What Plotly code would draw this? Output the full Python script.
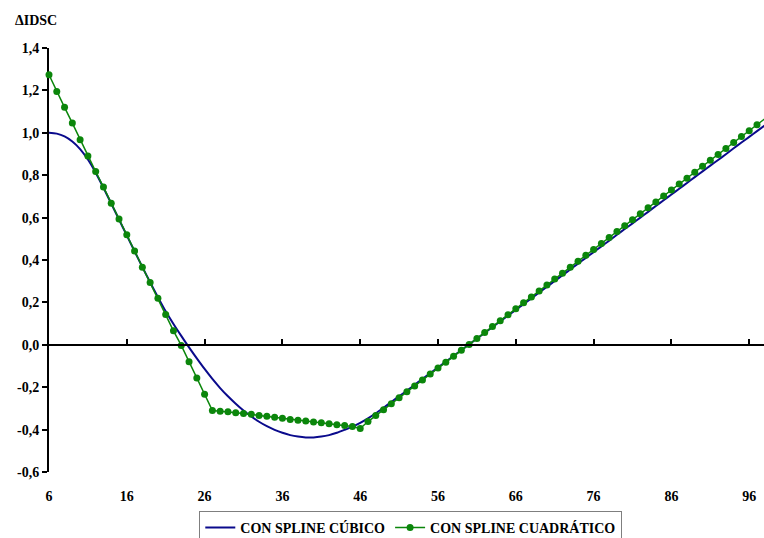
import plotly.graph_objects as go

# ---- data ----
x_vals = list(range(6, 99))

cubico = [
    1.000, 0.996, 0.983, 0.959, 0.923, 0.874, 0.812, 0.741, 0.666, 0.591,
    0.516, 0.441, 0.367, 0.295, 0.225, 0.158, 0.098, 0.042, -0.012, -0.064,
    -0.114, -0.161, -0.204, -0.243, -0.278, -0.310, -0.338, -0.363, -0.384, -0.401,
    -0.415, -0.426, -0.433, -0.437, -0.437, -0.433, -0.426, -0.415, -0.401, -0.386,
    -0.368, -0.347, -0.323, -0.297, -0.270, -0.243, -0.216, -0.189, -0.161, -0.134,
    -0.107, -0.080, -0.053, -0.025, 0.002, 0.029, 0.056, 0.083, 0.111, 0.138,
    0.165, 0.192, 0.219, 0.247, 0.274, 0.301, 0.328, 0.355, 0.383, 0.410,
    0.437, 0.464, 0.491, 0.519, 0.546, 0.573, 0.600, 0.627, 0.655, 0.682,
    0.709, 0.736, 0.763, 0.791, 0.818, 0.845, 0.872, 0.899, 0.927, 0.954,
    0.981, 1.008, 1.035,
]

cuadratico = [
    1.274, 1.195, 1.120, 1.046, 0.967, 0.890, 0.817, 0.744, 0.668, 0.593,
    0.519, 0.443, 0.366, 0.294, 0.220, 0.143, 0.066, -0.003, -0.080, -0.157,
    -0.233, -0.310, -0.313, -0.316, -0.320, -0.324, -0.328, -0.333, -0.337, -0.342,
    -0.347, -0.352, -0.356, -0.360, -0.364, -0.368, -0.372, -0.377, -0.381, -0.385,
    -0.395, -0.362, -0.334, -0.306, -0.278, -0.250, -0.222, -0.194, -0.166, -0.138,
    -0.110, -0.082, -0.054, -0.026, 0.002, 0.030, 0.058, 0.086, 0.114, 0.142,
    0.170, 0.198, 0.226, 0.254, 0.282, 0.310, 0.338, 0.366, 0.394, 0.422,
    0.450, 0.478, 0.506, 0.534, 0.562, 0.590, 0.618, 0.646, 0.674, 0.702,
    0.730, 0.758, 0.786, 0.814, 0.842, 0.870, 0.898, 0.926, 0.954, 0.982,
    1.010, 1.038, 1.066,
]

x_ticks = [6, 16, 26, 36, 46, 56, 66, 76, 86, 96]
y_ticks = [-0.6, -0.4, -0.2, 0.0, 0.2, 0.4, 0.6, 0.8, 1.0, 1.2, 1.4]
y_ticktext = ["-0,6", "-0,4", "-0,2", "0,0", "0,2", "0,4", "0,6", "0,8", "1,0", "1,2", "1,4"]

FONT = "Liberation Serif, Times New Roman, serif"
Y_MIN, Y_MAX = -0.6, 1.4

fig = go.Figure()

fig.add_trace(go.Scatter(
    x=x_vals, y=cubico, name="CON SPLINE CÚBICO",
    mode="lines", line=dict(color="#0a0a8c", width=2, shape="spline", smoothing=0.8),
))
fig.add_trace(go.Scatter(
    x=x_vals, y=cuadratico, name="CON SPLINE CUADRÁTICO",
    mode="lines+markers", line=dict(color="#0b860b", width=1.5),
    marker=dict(color="#0b860b", size=7, symbol="circle"),
    cliponaxis=False,
))
# helper trace so the zero-line axis (xaxis2) is drawn
fig.add_trace(go.Scatter(
    x=[x_vals[0]], y=[0], xaxis="x2", yaxis="y", mode="markers",
    marker=dict(opacity=0), showlegend=False, hoverinfo="skip",
))

fig.update_layout(
    width=764, height=538,
    margin=dict(l=49, r=0, t=48, b=66, autoexpand=False),
    paper_bgcolor="white", plot_bgcolor="white",
    font=dict(family=FONT, size=14, color="black", weight="bold"),
    showlegend=True,
    legend=dict(
        orientation="h", x=0.506, xanchor="center", y=-0.092, yanchor="top",
        bordercolor="#7f7f7f", borderwidth=1, bgcolor="white",
        font=dict(family=FONT, size=14, color="black", weight="bold"),
        itemwidth=30, tracegroupgap=0,
    ),
    xaxis=dict(
        range=[6, 97.9], tickmode="array", tickvals=x_ticks,
        ticktext=[str(v) for v in x_ticks],
        showline=False, showgrid=False, zeroline=False,
        ticks="", ticklabelstandoff=14,
        tickfont=dict(family=FONT, size=14, color="black", weight="bold"),
    ),
    xaxis2=dict(
        overlaying="x", matches="x", anchor="free",
        position=(0 - Y_MIN) / (Y_MAX - Y_MIN),
        showline=True, linecolor="black", linewidth=2,
        ticks="inside", ticklen=5, tickwidth=2, tickcolor="black",
        tickmode="array", tickvals=x_ticks[1:],
        showticklabels=False, showgrid=False, zeroline=False,
    ),
    yaxis=dict(
        range=[Y_MIN, Y_MAX], tickmode="array", tickvals=y_ticks, ticktext=y_ticktext,
        showline=True, linecolor="black", linewidth=2,
        ticks="outside", ticklen=5, tickwidth=2, tickcolor="black",
        showgrid=False, zeroline=False, layer="below traces",
        tickfont=dict(family=FONT, size=14, color="black", weight="bold"),
    ),
    annotations=[dict(
        text="ΔIDSC", xref="paper", yref="paper", x=-0.051, y=1.066,
        xanchor="left", yanchor="middle", showarrow=False,
        font=dict(family=FONT, size=14, color="black", weight="bold"),
    )],
)

fig.write_html("out.html")
